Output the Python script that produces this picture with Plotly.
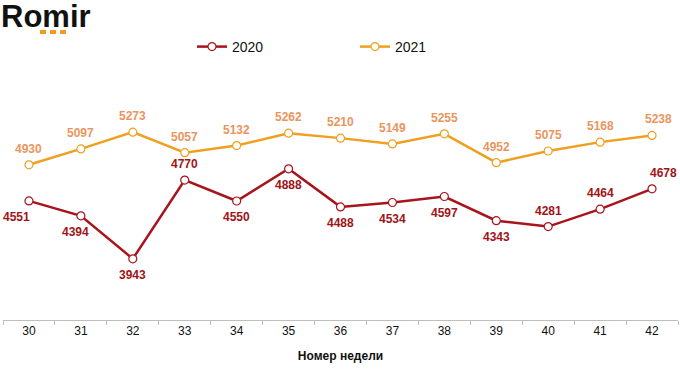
import plotly.graph_objects as go

weeks = ["30", "31", "32", "33", "34", "35", "36", "37", "38", "39", "40", "41", "42"]
v2020 = [4551, 4394, 3943, 4770, 4550, 4888, 4488, 4534, 4597, 4343, 4281, 4464, 4678]
v2021 = [4930, 5097, 5273, 5057, 5132, 5262, 5210, 5149, 5255, 4952, 5075, 5168, 5238]
# label placement: +1 above the point, -1 below
side2020 = [-1, -1, -1, 1, -1, -1, -1, -1, -1, -1, 1, 1, 1]
side2021 = [1] * 13
nudge2020 = [-12, -5, 0, 0, 0, 0, 0, 0, 0, 0, 0, 0, 11]
nudge2021 = [0, 0, 0, 0, 0, 0, 0, 0, 0, 0, 0, 0, 6]

RED = "#A8141B"
RED_TXT = "#A01418"
GOLD = "#EFA020"
GOLD_TXT = "#E9955E"

L, R, T, B = 3, 2, 101, 52
W, H = 680, 372
pw, ph = W - L - R, H - T - B

def px(x):
    return (x - L) / pw

def py(y):
    return (H - B - y) / ph

fig = go.Figure()
fig.add_trace(go.Scatter(
    x=weeks, y=v2020, name="2020", mode="lines+markers",
    line=dict(color=RED, width=2.5),
    marker=dict(symbol="circle", size=8, color="white", line=dict(color=RED, width=1.2)),
))
fig.add_trace(go.Scatter(
    x=weeks, y=v2021, name="2021", mode="lines+markers",
    line=dict(color=GOLD, width=2.5),
    marker=dict(symbol="circle", size=8, color="white", line=dict(color=GOLD, width=1.2)),
))

annotations = []
for vals, sides, nudges, col in ((v2020, side2020, nudge2020, RED_TXT),
                                  (v2021, side2021, nudge2021, GOLD_TXT)):
    for i, (v, s, dx) in enumerate(zip(vals, sides, nudges)):
        annotations.append(dict(
            x=i, y=v, xref="x", yref="y", text=f"<b>{v}</b>", showarrow=False,
            xanchor="center", yanchor="middle", xshift=dx, yshift=16 * s,
            font=dict(family="Liberation Sans, Arial", size=12, color=col)))

annotations.append(dict(text="<b>Romir</b>", xref="paper", yref="paper",
                        x=px(0), y=py(16), xanchor="left", yanchor="middle",
                        showarrow=False, borderpad=0,
                        font=dict(family="Liberation Sans, Arial", size=31, color="#111111")))

fig.update_layout(
    width=W, height=H,
    margin=dict(l=L, r=R, t=T, b=B),
    paper_bgcolor="white", plot_bgcolor="white",
    showlegend=True,
    legend=dict(orientation="h", x=px(192), y=py(47), xanchor="left", yanchor="middle",
                entrywidth=118, entrywidthmode="pixels",
                font=dict(family="Liberation Sans, Arial", size=14, color="#111111"),
                bgcolor="rgba(0,0,0,0)"),
    xaxis=dict(type="category", range=[-0.5, 12.5], showgrid=False,
               showline=True, linecolor="#BFBFBF", linewidth=1,
               ticks="outside", tickson="boundaries", ticklen=4, tickcolor="#BFBFBF",
               tickfont=dict(family="Liberation Sans Narrow, Arial Narrow, Liberation Sans", size=12, color="#111111"),
               title=dict(text="Номер недели", standoff=14,
                          font=dict(family="Liberation Sans, Arial", size=12, color="#111111", weight="bold"))),
    yaxis=dict(range=[3300, 5600], visible=False, showgrid=False, zeroline=False),
    annotations=annotations,
    shapes=[dict(type="rect", xref="paper", yref="paper",
                 x0=px(x0), x1=px(x0 + 6), y0=py(34), y1=py(30),
                 fillcolor="#F39A1E", line=dict(width=0))
            for x0 in (40, 50, 60)],
)

fig.write_html("out.html", config={"displayModeBar": False},
               post_script="document.body.style.margin='0';document.body.style.padding='0';")
